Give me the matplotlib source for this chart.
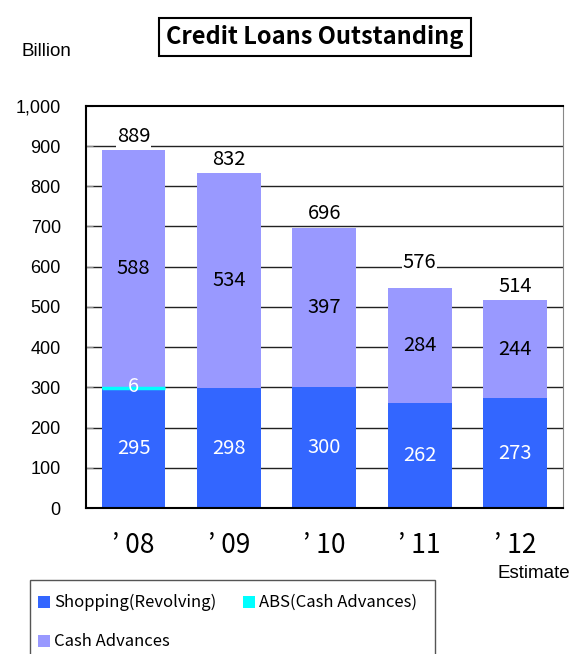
import matplotlib
matplotlib.use("Agg")
import matplotlib.pyplot as plt
from matplotlib.patches import Rectangle
import numpy as np

# ------------------ DATA ------------------
years = ["’ 08", "’ 09", "’ 10", "’ 11", "’ 12"]
shopping = [295, 298, 300, 262, 273]
abs_cash = [6, 0, 0, 0, 0]
cash_adv = [588, 534, 397, 284, 244]
total_labels = [889, 832, 696, 576, 514]

series_names = ["Shopping(Revolving)", "ABS(Cash Advances)", "Cash Advances"]
colors = ["#3366FF", "#00FFFF", "#9999FF"]

CJK = ["Noto Sans CJK JP", "DejaVu Sans"]
plt.rcParams["font.family"] = CJK

# ------------------ FIGURE ------------------
fig = plt.figure(figsize=(5.76, 6.54), dpi=100)
ax = fig.add_axes([0.149, 0.2232, 0.828, 0.615])

x = np.arange(len(years))
w = 0.67
b1 = np.array(shopping)
b2 = b1 + np.array(abs_cash)

ax.bar(x, shopping, w, color=colors[0], zorder=2)
ax.bar(x, abs_cash, w, bottom=b1, color=colors[1], zorder=2)
ax.bar(x, cash_adv, w, bottom=b2, color=colors[2], zorder=2)

# ABS is tiny, show it as a thin line
ax.hlines(b1[0] + abs_cash[0] / 2, x[0] - w / 2, x[0] + w / 2, color=colors[1], lw=2.5, zorder=3)

ax.set_xlim(-0.5, len(years) - 0.5)
ax.set_ylim(0, 1000)
ax.set_yticks(range(0, 1001, 100))
ax.set_yticklabels([f"{v:,}" for v in range(0, 1001, 100)], family="Liberation Sans", fontsize=13)
ax.tick_params(axis="y", direction="in", length=5, color="#888888", pad=18)
ax.set_xticks(x)
ax.set_xticklabels(years, fontsize=19)
ax.tick_params(axis="x", length=0, pad=17)

for v in range(100, 1000, 100):
    ax.axhline(v, color="#222222", lw=1, zorder=1)

for s in ["left", "bottom", "top"]:
    ax.spines[s].set_color("black")
    ax.spines[s].set_linewidth(1.5)
ax.spines["right"].set_color("#888888")

# segment labels
for i in range(len(years)):
    ax.text(x[i], shopping[i] / 2, str(shopping[i]), ha="center", va="center",
            color="white", fontsize=14.5, zorder=4)
    ax.text(x[i], b2[i] + cash_adv[i] / 2, str(cash_adv[i]), ha="center", va="center",
            color="black", fontsize=14.5, zorder=4)
    if abs_cash[i] > 0:
        ax.text(x[i], b1[i] + abs_cash[i], str(abs_cash[i]), ha="center", va="center",
                color="white", fontsize=14.5, zorder=4)
    top = max(b2[i] + cash_adv[i], total_labels[i])
    ax.annotate(str(total_labels[i]), (x[i], top), xytext=(0, 10), textcoords="offset points",
                ha="center", va="center", fontsize=14.5, zorder=1.5,
                bbox=dict(boxstyle="square,pad=0.05", fc="white", ec="none"))

# ------------------ TITLE / NOTES ------------------
fig.text(0.547, 0.944, "Credit Loans Outstanding", ha="center", va="center",
         fontsize=17, fontweight="bold",
         bbox=dict(boxstyle="square,pad=0.3", fc="white", ec="black", lw=1.5))
fig.text(0.038, 0.922, "Billion", ha="left", va="center", fontsize=13.5, family="Liberation Sans")
fig.text(0.99, 0.123, "Estimate", ha="right", va="center", fontsize=13.5, family="Liberation Sans")

# ------------------ LEGEND (box runs off the bottom) ------------------
fig.patches.append(Rectangle((30 / 576, -0.05), 405 / 576, 0.05 + 74 / 654,
                             transform=fig.transFigure, fill=False, ec="#555555", lw=1))
leg_pos = [(38, 602), (243, 602), (38, 641)]
for (px, py), name, c in zip(leg_pos, series_names, colors):
    fig.patches.append(Rectangle((px / 576, 1 - (py + 6) / 654), 12 / 576, 12 / 654,
                                 transform=fig.transFigure, fc=c, ec="none"))
    fig.text((px + 16) / 576, 1 - py / 654, name, ha="left", va="center", fontsize=12)

plt.savefig("out.png", dpi=100)
plt.close()
